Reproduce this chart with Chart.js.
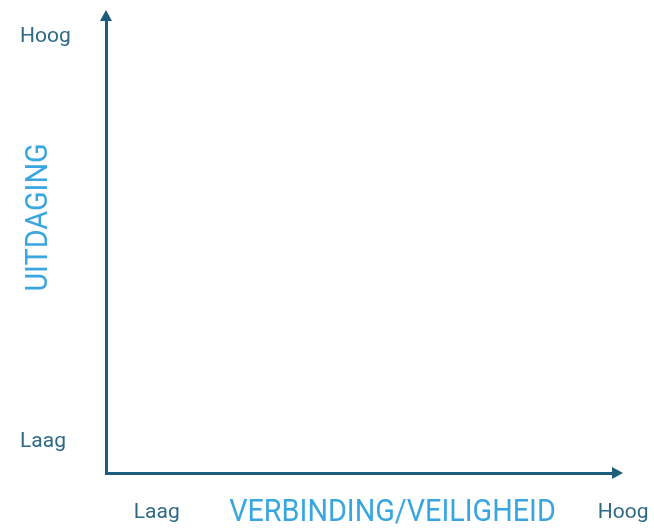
<!DOCTYPE html>
<html>
<head>
<meta charset="utf-8">
<script src="https://cdn.jsdelivr.net/npm/chart.js@4"></script>
<style>
  html, body { margin: 0; padding: 0; background: #fff; }
  #wrap { width: 654px; height: 531px; position: relative; }
</style>
</head>
<body>
<div id="wrap"><canvas id="quadrantChart"></canvas></div>
<script>
// Axis labels and tick positions (0-100 scale)
const xTickLabels = ['Laag', 'Hoog'];
const xTickValues = [10, 102];
const yTickLabels = ['Laag', 'Hoog'];
const yTickValues = [7, 96.3];
const xTitle = 'VERBINDING/VEILIGHEID';
const yTitle = 'UITDAGING';

const AXIS_COLOR = '#1c5d7c';
const LABEL_COLOR = '#2e6a86';
const TITLE_COLOR = '#3aa6df';

// Arrow heads + condensed axis titles
const axisDecor = {
  id: 'axisDecor',
  afterDraw(chart) {
    const { ctx, chartArea: a } = chart;
    ctx.save();
    ctx.fillStyle = AXIS_COLOR;
    // up arrow
    ctx.beginPath();
    ctx.moveTo(a.left - 6, a.top + 1);
    ctx.lineTo(a.left + 6, a.top + 1);
    ctx.lineTo(a.left, a.top - 10);
    ctx.closePath();
    ctx.fill();
    // right arrow
    ctx.beginPath();
    ctx.moveTo(a.right - 1, a.bottom - 6);
    ctx.lineTo(a.right - 1, a.bottom + 6);
    ctx.lineTo(a.right + 10, a.bottom);
    ctx.closePath();
    ctx.fill();

    // titles, squeezed horizontally
    ctx.fillStyle = TITLE_COLOR;
    ctx.font = '32px Roboto';
    ctx.textAlign = 'center';
    ctx.textBaseline = 'middle';
    const squeeze = 0.9;
    ctx.save();
    ctx.translate((a.left + a.right) / 2 + 33, 513);
    ctx.scale(squeeze, 1);
    ctx.fillText(xTitle, 0, 0);
    ctx.restore();

    ctx.save();
    ctx.translate(39, (a.top + a.bottom) / 2 - 29);
    ctx.rotate(-Math.PI / 2);
    ctx.scale(squeeze, 1);
    ctx.fillText(yTitle, 0, 0);
    ctx.restore();
    ctx.restore();
  }
};

function initQuadrantChart(canvasId) {
  const ctx = document.getElementById(canvasId);
  if (!ctx) return;
  new Chart(ctx, {
    type: 'scatter',
    data: { datasets: [] },
    options: {
      responsive: true,
      maintainAspectRatio: false,
      animation: false,
      layout: { padding: { top: 20, right: 41, left: 20, bottom: 0 } },
      plugins: { legend: { display: false }, tooltip: { enabled: false } },
      scales: {
        x: {
          type: 'linear', min: 0, max: 100,
          grid: { display: false, drawTicks: false },
          border: { display: true, color: AXIS_COLOR, width: 3 },
          afterBuildTicks: s => { s.ticks = xTickValues.map(v => ({ value: v })); },
          afterFit: s => { s.height = 58; s.paddingLeft = 0; s.paddingRight = 0; },
          ticks: {
            autoSkip: false, maxRotation: 0, padding: 27,
            color: LABEL_COLOR, font: { family: 'Roboto', size: 21 },
            callback: (v, i) => xTickLabels[i]
          }
        },
        y: {
          type: 'linear', min: 0, max: 100,
          grid: { display: false, drawTicks: false },
          border: { display: true, color: AXIS_COLOR, width: 3 },
          afterBuildTicks: s => { s.ticks = yTickValues.map(v => ({ value: v })); },
          afterFit: s => { s.width = 86; s.paddingTop = 0; s.paddingBottom = 0; },
          ticks: {
            autoSkip: false, crossAlign: 'far', padding: 0,
            color: LABEL_COLOR, font: { family: 'Roboto', size: 21 },
            callback: (v, i) => yTickLabels[i]
          }
        }
      }
    },
    plugins: [axisDecor]
  });
}

document.addEventListener('DOMContentLoaded', () => {
  initQuadrantChart('quadrantChart');
});
</script>
</body>
</html>
